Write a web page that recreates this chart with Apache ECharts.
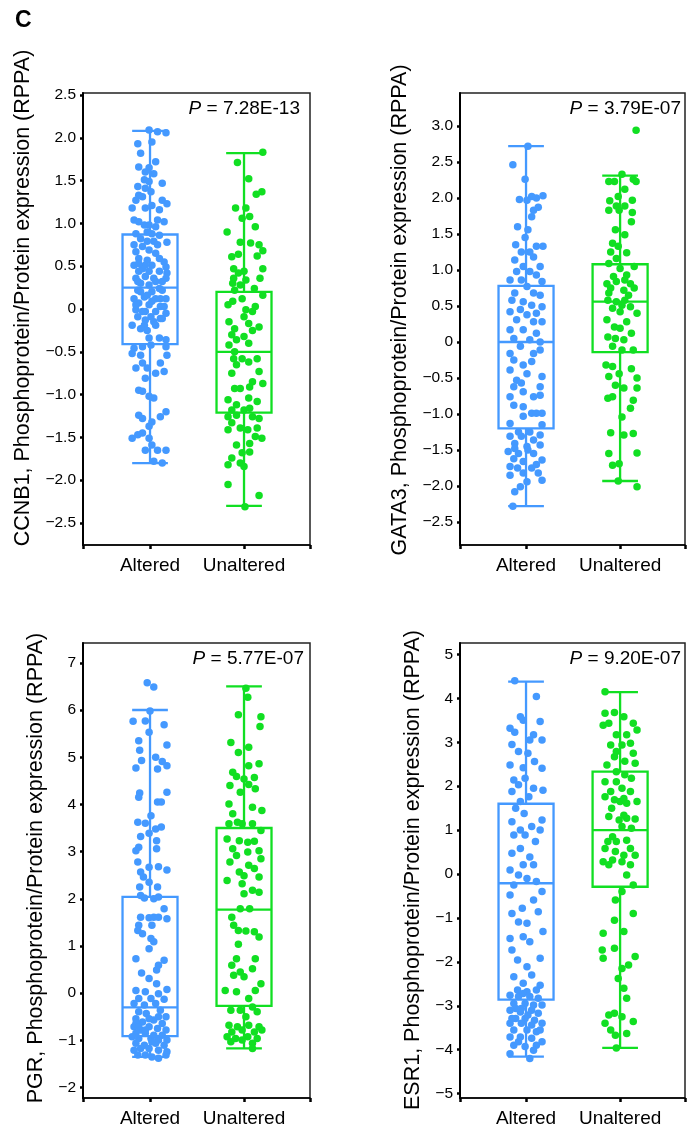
<!DOCTYPE html>
<html>
<head>
<meta charset="utf-8">
<script src="https://cdn.jsdelivr.net/npm/echarts@6/dist/echarts.min.js"></script>
<style>
html,body{margin:0;padding:0;background:#fff;}
#chart{width:689px;height:1130px;}
</style>
</head>
<body>
<div id="chart"></div>
<script>
// ---------------- DATA ----------------
var categories = ['Altered', 'Unaltered'];
var genes = ['CCNB1', 'GATA3', 'PGR', 'ESR1'];
var pValues = ['7.28E-13', '3.79E-07', '5.77E-07', '9.20E-07'];

// box stats: [x, lowerWhisker, Q1, median, Q3, upperWhisker]
var ccnb1Box = [[1, -1.80, -0.41, 0.25, 0.87, 2.08], [2, -2.30, -1.21, -0.50, 0.20, 1.82]];
var gata3Box = [[1, -2.28, -1.20, 0.00, 0.78, 2.72], [2, -1.93, -0.14, 0.56, 1.08, 2.31]];
var pgrBox   = [[1, -1.35, -0.91, -0.30, 2.04, 6.00], [2, -1.17, -0.27, 1.77, 3.50, 6.50]];
var esr1Box  = [[1, -4.16, -2.86, -0.21, 1.60, 4.38], [2, -3.96, -0.29, 1.00, 2.33, 4.14]];

// tick values
var ccnb1Ticks = [-2.5, -2.0, -1.5, -1.0, -0.5, 0, 0.5, 1.0, 1.5, 2.0, 2.5];
var gata3Ticks = [-2.5, -2.0, -1.5, -1.0, -0.5, 0, 0.5, 1.0, 1.5, 2.0, 2.5, 3.0];
var pgrTicks   = [-2, -1, 0, 1, 2, 3, 4, 5, 6, 7];
var esr1Ticks  = [-5, -4, -3, -2, -1, 0, 1, 2, 3, 4, 5];

// individual samples [jittered group position, value]
var ccnb1Altered = [[0.99,2.09],[1.08,2.07],[1.17,2.06],[0.87,1.93],[1.02,1.95],[0.90,1.82],[1.06,1.72],[0.88,1.66],[0.99,1.65],[0.95,1.60],[1.04,1.58],[0.94,1.51],[0.99,1.49],[1.13,1.47],[0.87,1.43],[0.95,1.41],[1.01,1.37],[0.88,1.33],[0.92,1.31],[0.85,1.27],[1.13,1.27],[1.18,1.23],[0.81,1.18],[0.95,1.18],[1.02,1.21],[1.10,1.16],[0.83,1.04],[0.88,1.02],[1.08,1.04],[0.99,0.98],[1.06,0.96],[0.85,0.88],[0.97,0.90],[1.02,0.88],[1.10,0.86],[0.90,0.82],[0.97,0.79],[1.18,0.78],[0.83,0.75],[0.92,0.73],[1.08,0.75],[0.85,0.67],[0.99,0.69],[1.06,0.65],[0.88,0.59],[0.97,0.57],[1.15,0.55],[0.83,0.51],[0.92,0.49],[1.02,0.51],[1.17,0.49],[0.88,0.44],[0.99,0.44],[1.10,0.44],[1.18,0.42],[0.95,0.38],[0.85,0.36],[1.04,0.36],[1.17,0.36],[0.90,0.30],[0.99,0.28],[1.10,0.24],[0.87,0.22],[1.02,0.20],[1.13,0.22],[0.94,0.14],[0.83,0.12],[1.06,0.12],[1.17,0.12],[0.88,0.07],[0.99,0.05],[1.11,0.03],[0.85,-0.01],[0.95,-0.03],[1.06,-0.03],[1.17,-0.05],[0.87,-0.09],[1.01,-0.09],[1.11,-0.11],[0.81,-0.19],[0.94,-0.19],[1.04,-0.15],[1.13,-0.11],[0.97,-0.25],[0.90,-0.23],[1.10,-0.34],[1.17,-0.36],[0.83,-0.46],[0.92,-0.44],[1.01,-0.42],[1.17,-0.44],[0.81,-0.52],[0.90,-0.54],[1.18,-0.54],[0.92,-0.63],[1.11,-0.63],[0.85,-0.69],[0.97,-0.69],[1.15,-0.73],[1.06,-0.75],[0.95,-0.81],[0.88,-0.95],[0.92,-0.96],[0.99,-1.02],[1.04,-1.04],[0.88,-1.24],[1.17,-1.20],[0.92,-1.28],[1.11,-1.26],[1.02,-1.32],[0.99,-1.37],[0.87,-1.47],[0.92,-1.45],[0.81,-1.51],[0.99,-1.51],[1.02,-1.59],[0.95,-1.65],[1.08,-1.65],[1.17,-1.65],[1.04,-1.78],[1.13,-1.80],[0.92,0.47],[0.95,0.51],[0.87,0.32],[1.06,0.32],[1.13,0.32],[0.90,0.20],[0.97,0.16],[1.11,0.12],[0.85,0.05],[1.02,0.09],[0.92,-0.03],[1.15,0.03],[1.06,-0.19],[0.95,-0.13],[0.99,-0.34],[1.10,0.59],[0.88,0.53],[1.04,0.79],[0.94,0.98],[1.15,1.02]];
var ccnb1Unaltered = [[2.20,1.83],[1.93,1.71],[2.05,1.52],[2.13,1.34],[2.19,1.37],[1.91,1.18],[2.02,1.18],[1.98,1.06],[2.06,1.08],[2.12,0.96],[1.82,0.90],[1.96,0.78],[2.07,0.77],[2.16,0.75],[2.20,0.68],[1.87,0.61],[1.94,0.64],[2.14,0.62],[1.89,0.47],[2.20,0.47],[1.94,0.42],[2.00,0.44],[1.89,0.36],[2.02,0.34],[2.17,0.36],[1.88,0.30],[1.96,0.28],[1.90,0.22],[2.11,0.24],[2.20,0.16],[1.98,0.12],[1.88,0.09],[1.83,0.05],[2.12,0.03],[2.02,-0.01],[2.09,-0.03],[2.00,-0.09],[1.84,-0.15],[2.05,-0.17],[2.16,-0.21],[1.90,-0.23],[2.09,-0.25],[1.87,-0.30],[2.00,-0.32],[1.92,-0.36],[1.84,-0.42],[2.05,-0.40],[1.90,-0.50],[1.89,-0.58],[1.98,-0.58],[2.14,-0.58],[2.05,-0.62],[1.92,-0.65],[1.87,-0.75],[2.16,-0.73],[2.09,-0.85],[2.20,-0.87],[1.90,-0.93],[1.96,-0.93],[2.06,-0.91],[2.05,-1.04],[2.14,-1.08],[1.83,-1.06],[1.92,-1.12],[1.87,-1.18],[2.00,-1.18],[2.06,-1.16],[1.83,-1.26],[1.92,-1.24],[2.09,-1.26],[2.16,-1.28],[1.87,-1.33],[1.96,-1.39],[2.04,-1.41],[2.14,-1.39],[1.83,-1.41],[2.12,-1.49],[2.19,-1.51],[1.92,-1.59],[2.06,-1.57],[1.98,-1.68],[2.06,-1.67],[1.87,-1.74],[1.96,-1.80],[2.00,-1.84],[1.83,-1.82],[1.83,-2.05],[2.16,-2.18],[2.01,-2.31]];

var gata3Altered = [[1.02,2.72],[0.86,2.46],[0.99,2.26],[0.93,1.98],[1.06,2.02],[1.11,2.00],[1.18,2.03],[1.01,1.97],[1.08,1.83],[1.13,1.87],[1.06,1.74],[0.91,1.60],[1.02,1.56],[0.99,1.45],[0.89,1.35],[1.11,1.33],[1.18,1.33],[0.95,1.25],[1.04,1.25],[1.08,1.18],[0.88,1.14],[1.15,1.05],[0.97,1.05],[0.90,0.98],[1.04,0.98],[1.11,0.93],[0.83,0.86],[0.95,0.86],[1.17,0.84],[1.01,0.77],[0.88,0.68],[1.08,0.68],[1.15,0.65],[0.85,0.58],[0.97,0.56],[1.06,0.51],[1.17,0.49],[0.94,0.45],[0.83,0.42],[1.11,0.40],[1.01,0.38],[0.90,0.31],[1.08,0.28],[1.17,0.28],[0.83,0.17],[0.97,0.17],[1.11,0.12],[0.87,0.05],[1.04,0.03],[1.15,0.00],[0.94,-0.06],[0.83,-0.16],[1.08,-0.16],[1.15,-0.11],[0.87,-0.25],[0.97,-0.32],[1.06,-0.27],[0.83,-0.39],[1.01,-0.44],[1.17,-0.48],[0.90,-0.53],[0.95,-0.57],[0.87,-0.62],[1.15,-0.62],[0.97,-0.69],[1.08,-0.76],[0.83,-0.76],[1.15,-0.74],[0.87,-0.88],[0.97,-0.90],[1.06,-0.99],[1.11,-0.99],[1.17,-0.99],[0.97,-1.03],[0.83,-1.13],[1.17,-1.15],[0.92,-1.25],[1.04,-1.25],[0.83,-1.31],[0.95,-1.31],[1.15,-1.29],[1.08,-1.36],[0.88,-1.41],[1.01,-1.45],[1.15,-1.43],[0.81,-1.52],[0.92,-1.55],[1.08,-1.55],[0.87,-1.62],[1.17,-1.64],[0.97,-1.66],[0.83,-1.73],[0.91,-1.75],[1.06,-1.75],[1.13,-1.82],[0.83,-1.85],[0.97,-1.82],[1.17,-1.92],[0.94,-2.01],[0.88,-2.08],[0.86,-2.28],[1.02,-1.50],[0.88,-1.48],[1.11,-1.70],[1.01,-1.94]];
var gata3Unaltered = [[2.17,2.94],[2.02,2.33],[1.94,2.23],[1.88,2.23],[2.14,2.26],[2.17,2.23],[2.05,2.12],[1.98,2.02],[1.89,1.96],[2.13,1.97],[1.96,1.89],[2.05,1.89],[1.88,1.83],[1.99,1.83],[2.13,1.80],[2.12,1.67],[1.95,1.56],[2.05,1.49],[1.92,1.37],[1.98,1.33],[1.90,1.25],[2.07,1.24],[1.96,1.16],[1.88,1.09],[2.15,1.05],[2.00,1.02],[2.07,0.93],[1.86,0.81],[1.96,0.84],[2.11,0.81],[1.90,0.75],[2.04,0.72],[2.15,0.75],[1.87,0.58],[1.96,0.56],[2.05,0.58],[1.92,0.47],[2.11,0.49],[2.00,0.42],[2.18,0.40],[1.86,0.31],[2.07,0.28],[1.94,0.21],[2.00,0.19],[2.12,0.12],[1.87,0.07],[1.95,0.05],[2.04,0.03],[1.92,-0.06],[2.02,-0.11],[2.14,-0.11],[1.85,-0.32],[1.92,-0.34],[2.12,-0.37],[1.99,-0.44],[1.88,-0.48],[2.18,-0.50],[1.95,-0.60],[2.04,-0.64],[2.18,-0.64],[1.87,-0.78],[1.92,-0.76],[2.14,-0.81],[2.11,-0.92],[2.02,-1.04],[1.90,-1.26],[2.14,-1.27],[2.04,-1.29],[1.88,-1.55],[2.18,-1.54],[1.92,-1.71],[1.99,-1.69],[1.98,-1.93],[2.18,-2.01],[1.93,0.91],[2.05,0.86],[1.88,0.68],[2.09,0.65],[2.02,0.51]];

var pgrAltered = [[0.97,6.58],[1.04,6.49],[1.00,5.98],[0.82,5.76],[0.95,5.77],[1.15,5.69],[0.99,5.53],[0.88,5.35],[1.18,5.26],[0.89,5.15],[1.06,5.00],[1.13,4.91],[0.91,4.93],[0.85,4.77],[1.18,4.82],[1.08,4.75],[1.18,4.26],[0.89,4.24],[0.88,4.15],[1.08,4.05],[1.12,4.05],[1.01,3.76],[0.87,3.62],[0.95,3.60],[1.06,3.48],[1.12,3.52],[0.90,3.32],[0.99,3.39],[1.07,3.23],[0.88,3.09],[0.85,3.02],[1.07,3.06],[0.87,2.78],[0.99,2.67],[1.09,2.68],[1.18,2.61],[0.90,2.57],[0.93,2.46],[0.99,2.35],[0.89,2.25],[1.08,2.25],[0.90,2.07],[0.94,2.02],[1.04,2.00],[1.09,2.04],[1.15,1.79],[0.90,1.61],[0.99,1.60],[1.04,1.61],[1.09,1.61],[1.18,1.58],[0.88,1.44],[1.02,1.44],[0.87,1.33],[0.92,1.26],[1.01,1.16],[1.04,1.09],[0.99,0.94],[1.15,0.70],[0.85,0.73],[1.09,0.59],[1.07,0.49],[0.91,0.43],[0.99,0.31],[1.07,0.20],[1.18,0.08],[0.85,0.06],[0.95,0.03],[1.09,-0.01],[0.88,-0.11],[1.01,-0.11],[1.15,-0.13],[0.83,-0.22],[0.94,-0.25],[1.06,-0.22],[1.11,-0.36],[0.88,-0.39],[0.96,-0.43],[1.17,-0.50],[0.85,-0.54],[1.04,-0.57],[0.92,-0.61],[1.13,-0.64],[0.83,-0.71],[0.99,-0.71],[1.08,-0.75],[0.90,-0.78],[1.17,-0.78],[0.85,-0.85],[0.95,-0.85],[1.04,-0.89],[1.13,-0.89],[0.81,-0.92],[0.88,-0.96],[1.01,-0.96],[1.09,-0.99],[1.18,-0.99],[0.85,-1.06],[0.94,-1.10],[1.06,-1.06],[1.15,-1.10],[0.90,-1.17],[0.99,-1.17],[1.09,-1.21],[0.83,-1.21],[1.18,-1.24],[0.87,-1.31],[0.95,-1.31],[1.02,-1.35],[1.09,-1.38],[1.17,-1.31],[0.85,-0.64],[0.99,-0.54],[0.95,-0.78],[1.09,-0.50],[1.02,-1.03],[0.88,-0.71]];
var pgrUnaltered = [[2.02,6.46],[2.04,6.27],[1.94,5.90],[2.18,5.86],[2.17,5.65],[1.86,5.31],[2.05,5.21],[1.94,5.10],[2.16,4.86],[2.05,4.82],[1.88,4.68],[1.92,4.59],[2.00,4.54],[2.11,4.57],[1.85,4.40],[2.05,4.42],[2.12,4.33],[1.96,4.26],[1.84,4.01],[2.09,3.94],[2.19,3.87],[1.88,3.80],[1.93,3.62],[1.98,3.59],[2.09,3.59],[2.18,3.45],[1.84,3.59],[1.82,3.27],[1.95,3.23],[2.04,3.20],[2.11,3.22],[1.88,3.06],[2.04,2.99],[2.16,3.02],[1.92,2.92],[2.18,2.85],[1.85,2.78],[2.05,2.71],[2.11,2.64],[1.95,2.57],[2.00,2.49],[2.16,2.46],[1.82,2.39],[1.98,2.32],[2.09,2.18],[2.16,2.14],[2.00,2.11],[1.96,1.79],[2.06,1.79],[1.87,1.61],[1.89,1.44],[1.94,1.33],[2.02,1.32],[2.11,1.30],[2.16,1.19],[1.94,1.04],[1.92,0.73],[2.12,0.73],[1.87,0.59],[2.09,0.52],[1.96,0.45],[2.00,0.35],[1.89,0.38],[2.18,0.20],[1.80,0.06],[1.92,0.03],[2.12,0.06],[2.05,-0.11],[1.86,-0.36],[1.96,-0.36],[2.09,-0.29],[2.14,-0.39],[2.02,-0.50],[1.84,-0.68],[1.93,-0.71],[2.05,-0.68],[2.16,-0.71],[1.87,-0.82],[1.98,-0.78],[2.11,-0.82],[2.19,-0.78],[1.82,-0.92],[1.91,-0.96],[2.04,-0.92],[2.14,-0.96],[1.86,-1.03],[2.09,-1.06],[1.98,-0.99],[2.09,-1.17]];

var esr1Altered = [[0.88,4.40],[1.11,4.04],[0.94,3.58],[0.97,3.50],[0.83,3.32],[0.88,3.23],[1.15,3.47],[1.08,3.17],[1.17,3.05],[0.85,2.95],[1.04,3.05],[0.92,2.79],[1.02,2.75],[1.09,2.56],[0.83,2.48],[0.97,2.42],[1.17,2.41],[0.87,2.14],[0.99,2.18],[0.92,2.03],[1.08,1.95],[1.18,1.91],[0.85,1.88],[1.03,1.76],[0.94,1.65],[0.89,1.50],[0.98,1.38],[1.17,1.23],[0.85,1.19],[1.06,1.08],[0.94,1.00],[1.15,1.00],[0.87,0.89],[0.99,0.89],[1.10,0.74],[0.94,0.58],[0.85,0.47],[1.04,0.39],[0.97,0.21],[1.08,0.21],[0.83,0.09],[0.92,-0.02],[1.01,-0.10],[1.11,-0.17],[0.87,-0.25],[1.17,-0.40],[0.83,-0.48],[1.08,-0.59],[0.96,-0.78],[0.85,-0.90],[1.13,-0.86],[1.01,-1.12],[0.92,-1.09],[1.18,-1.31],[0.83,-1.47],[0.97,-1.43],[1.04,-1.54],[0.85,-1.73],[1.15,-1.92],[0.91,-1.96],[1.01,-2.11],[1.06,-2.30],[0.87,-2.34],[0.97,-2.49],[1.15,-2.53],[0.83,-2.76],[0.92,-2.79],[1.04,-2.79],[1.13,-2.83],[0.87,-2.95],[0.99,-2.95],[1.17,-2.98],[0.83,-3.10],[0.94,-3.14],[1.06,-3.10],[1.13,-3.17],[0.89,-3.29],[0.99,-3.29],[1.09,-3.33],[0.83,-3.40],[0.95,-3.40],[1.06,-3.44],[1.17,-3.40],[0.87,-3.55],[1.01,-3.55],[1.11,-3.59],[0.83,-3.71],[0.94,-3.71],[1.06,-3.74],[1.17,-3.82],[0.87,-3.90],[0.99,-3.93],[1.11,-3.90],[0.83,-4.09],[1.04,-4.20],[0.95,-3.06],[1.08,-2.98],[0.91,-2.64],[1.01,-2.68],[0.97,-2.72],[1.11,-2.64],[0.89,-3.06],[1.02,-3.21],[1.15,-3.55],[0.92,-3.82],[1.08,-4.01],[0.85,-3.29]];
var esr1Unaltered = [[1.84,4.15],[1.84,3.66],[1.94,3.68],[2.04,3.58],[2.14,3.43],[1.82,3.39],[1.96,3.17],[2.07,3.17],[2.18,3.28],[1.90,2.94],[2.02,2.94],[2.14,2.75],[1.94,2.67],[2.05,2.57],[2.16,2.52],[1.96,2.33],[2.05,2.26],[1.84,2.10],[1.96,2.10],[2.02,1.95],[1.84,1.76],[1.94,1.69],[2.00,1.65],[2.07,1.61],[2.18,1.65],[1.88,1.31],[1.99,1.23],[2.07,1.27],[2.16,1.25],[2.02,1.08],[1.92,0.85],[2.07,0.77],[1.84,0.58],[1.95,0.51],[2.04,0.43],[2.16,0.43],[1.82,0.28],[1.92,0.32],[2.02,0.28],[2.11,0.21],[1.88,0.21],[2.07,-0.02],[2.14,-0.25],[2.02,-0.40],[1.95,-0.59],[2.14,-0.90],[1.94,-1.05],[1.82,-1.35],[2.04,-1.31],[1.94,-1.69],[1.81,-1.73],[1.82,-1.92],[2.16,-1.88],[2.09,-2.07],[1.98,-2.38],[2.04,-2.60],[1.88,-3.21],[1.94,-3.17],[2.02,-3.25],[1.84,-3.40],[2.14,-3.36],[1.90,-3.55],[1.95,-3.67],[2.07,-3.63],[1.96,-3.96],[2.07,-2.83],[2.02,-2.15],[1.88,3.43],[2.11,2.98],[1.86,2.48],[2.11,1.88],[1.91,1.50],[2.12,1.04],[1.87,0.74],[2.11,0.58],[1.96,0.74],[2.04,1.34],[1.90,1.88],[2.12,2.18],[1.96,2.79],[2.04,1.72]];

// ---------------- LAYOUT / STYLE ----------------
var BLUE = '#4499ff', GREEN = '#11df22';
var FONT = 'Liberation Sans, Arial, sans-serif';
var BOX_W = 0.585, CAP_W = 0.38;

var panels = [
  {gene: genes[0], p: pValues[0], box: ccnb1Box, alt: ccnb1Altered, unalt: ccnb1Unaltered, ticks: ccnb1Ticks, dec: 1,
   grid: {left: 83, top: 93, width: 227, height: 452}, x: [0.287, 2.702], y: [-2.757, 2.523],
   pPos: [300, 118], nPos: [23, 298]},
  {gene: genes[1], p: pValues[1], box: gata3Box, alt: gata3Altered, unalt: gata3Unaltered, ticks: gata3Ticks, dec: 1,
   grid: {left: 460, top: 93, width: 225, height: 452}, x: [0.298, 2.69], y: [-2.819, 3.458],
   pPos: [681, 118], nPos: [400, 310]},
  {gene: genes[2], p: pValues[2], box: pgrBox, alt: pgrAltered, unalt: pgrUnaltered, ticks: pgrTicks, dec: 0,
   grid: {left: 83, top: 643, width: 227, height: 455}, x: [0.287, 2.702], y: [-2.22, 7.42],
   pPos: [304, 668], nPos: [36, 868]},
  {gene: genes[3], p: pValues[3], box: esr1Box, alt: esr1Altered, unalt: esr1Unaltered, ticks: esr1Ticks, dec: 0,
   grid: {left: 460, top: 643, width: 225, height: 455}, x: [0.298, 2.69], y: [-5.10, 5.26],
   pPos: [681, 668], nPos: [413, 870]}
];

function fmtTick(v, dec) {
  if (Math.abs(v) < 1e-9) return '0';
  var s = Math.abs(v).toFixed(dec);
  return (v < 0 ? '\u2212' : '') + s;
}

function renderBox(params, api) {
  var x = api.value(0);
  var lo = api.coord([x, api.value(1)]);
  var q1 = api.coord([x, api.value(2)]);
  var md = api.coord([x, api.value(3)]);
  var q3 = api.coord([x, api.value(4)]);
  var hi = api.coord([x, api.value(5)]);
  var bw = api.size([BOX_W, 0])[0];
  var cw = api.size([CAP_W, 0])[0];
  var color = api.visual('color');
  var st = {stroke: color, lineWidth: 2.3, fill: null};
  return {type: 'group', children: [
    {type: 'line', shape: {x1: hi[0], y1: hi[1], x2: q3[0], y2: q3[1]}, style: st},
    {type: 'line', shape: {x1: q1[0], y1: q1[1], x2: lo[0], y2: lo[1]}, style: st},
    {type: 'line', shape: {x1: hi[0] - cw / 2, y1: hi[1], x2: hi[0] + cw / 2, y2: hi[1]}, style: st},
    {type: 'line', shape: {x1: lo[0] - cw / 2, y1: lo[1], x2: lo[0] + cw / 2, y2: lo[1]}, style: st},
    {type: 'rect', shape: {x: q3[0] - bw / 2, y: q3[1], width: bw, height: q1[1] - q3[1]}, style: st},
    {type: 'line', shape: {x1: md[0] - bw / 2, y1: md[1], x2: md[0] + bw / 2, y2: md[1]}, style: st}
  ]};
}

var grids = [], xAxes = [], yAxes = [], series = [], graphics = [];

panels.forEach(function (pn, i) {
  grids.push(Object.assign({show: true, borderColor: '#222', borderWidth: 1.5, backgroundColor: 'transparent'}, pn.grid));
  xAxes.push({
    type: 'value', gridIndex: i, min: pn.x[0], max: pn.x[1],
    splitLine: {show: false},
    axisLine: {show: true, onZero: false, lineStyle: {color: '#000', width: 1.5}},
    axisTick: {show: true, customValues: [pn.x[0], 1, 2, pn.x[1]], length: 4, lineStyle: {color: '#000', width: 2.5}},
    axisLabel: {customValues: [1, 2], formatter: function (v) { return categories[Math.round(v) - 1]; },
      color: '#000', fontSize: 19, fontFamily: FONT, margin: 11}
  });
  yAxes.push({
    type: 'value', gridIndex: i, min: pn.y[0], max: pn.y[1],
    splitLine: {show: false},
    axisLine: {show: true, onZero: false, lineStyle: {color: '#000', width: 2}},
    axisTick: {show: true, customValues: pn.ticks, length: 3, lineStyle: {color: '#000', width: 2.5}},
    axisLabel: {customValues: pn.ticks, formatter: (function (d) { return function (v) { return fmtTick(v, d); }; })(pn.dec),
      color: '#000', fontSize: 15.5, fontFamily: FONT, margin: 7}
  });
  series.push({
    type: 'scatter', xAxisIndex: i, yAxisIndex: i, data: pn.alt, symbolSize: 7.5,
    itemStyle: {color: BLUE, opacity: 1}, silent: true, z: 2
  });
  series.push({
    type: 'scatter', xAxisIndex: i, yAxisIndex: i, data: pn.unalt, symbolSize: 7.5,
    itemStyle: {color: GREEN, opacity: 1}, silent: true, z: 2
  });
  series.push({
    type: 'custom', xAxisIndex: i, yAxisIndex: i, renderItem: renderBox, z: 3, silent: true,
    encode: {x: 0, y: [1, 2, 3, 4, 5]},
    data: pn.box.map(function (b, k) { return {value: b, itemStyle: {color: k === 0 ? BLUE : GREEN}}; })
  });
  graphics.push({
    type: 'text', x: pn.pPos[0], y: pn.pPos[1], z: 10,
    style: {
      text: '{i|P} = ' + pn.p, textAlign: 'right', textVerticalAlign: 'bottom',
      fontSize: 19, fontFamily: FONT, fill: '#000',
      rich: {i: {fontStyle: 'italic', fontSize: 19, fontFamily: FONT, fill: '#000'}}
    }
  });
  graphics.push({
    type: 'text', x: pn.nPos[0], y: pn.nPos[1], rotation: Math.PI / 2, z: 10,
    style: {
      text: pn.gene + ', Phosphoprotein/Protein expression (RPPA)',
      textAlign: 'center', textVerticalAlign: 'middle',
      fontSize: 21.5, fontFamily: FONT, fill: '#000'
    }
  });
});

graphics.push({
  type: 'text', x: 15, y: 9, z: 10,
  style: {text: 'C', fontSize: 23, fontWeight: 'bold', fontFamily: FONT, fill: '#000', textAlign: 'left', textVerticalAlign: 'top'}
});

var chart = echarts.init(document.getElementById('chart'), null, {renderer: 'canvas'});
chart.setOption({
  animation: false,
  backgroundColor: '#fff',
  grid: grids,
  xAxis: xAxes,
  yAxis: yAxes,
  series: series,
  graphic: graphics
});
</script>
</body>
</html>
